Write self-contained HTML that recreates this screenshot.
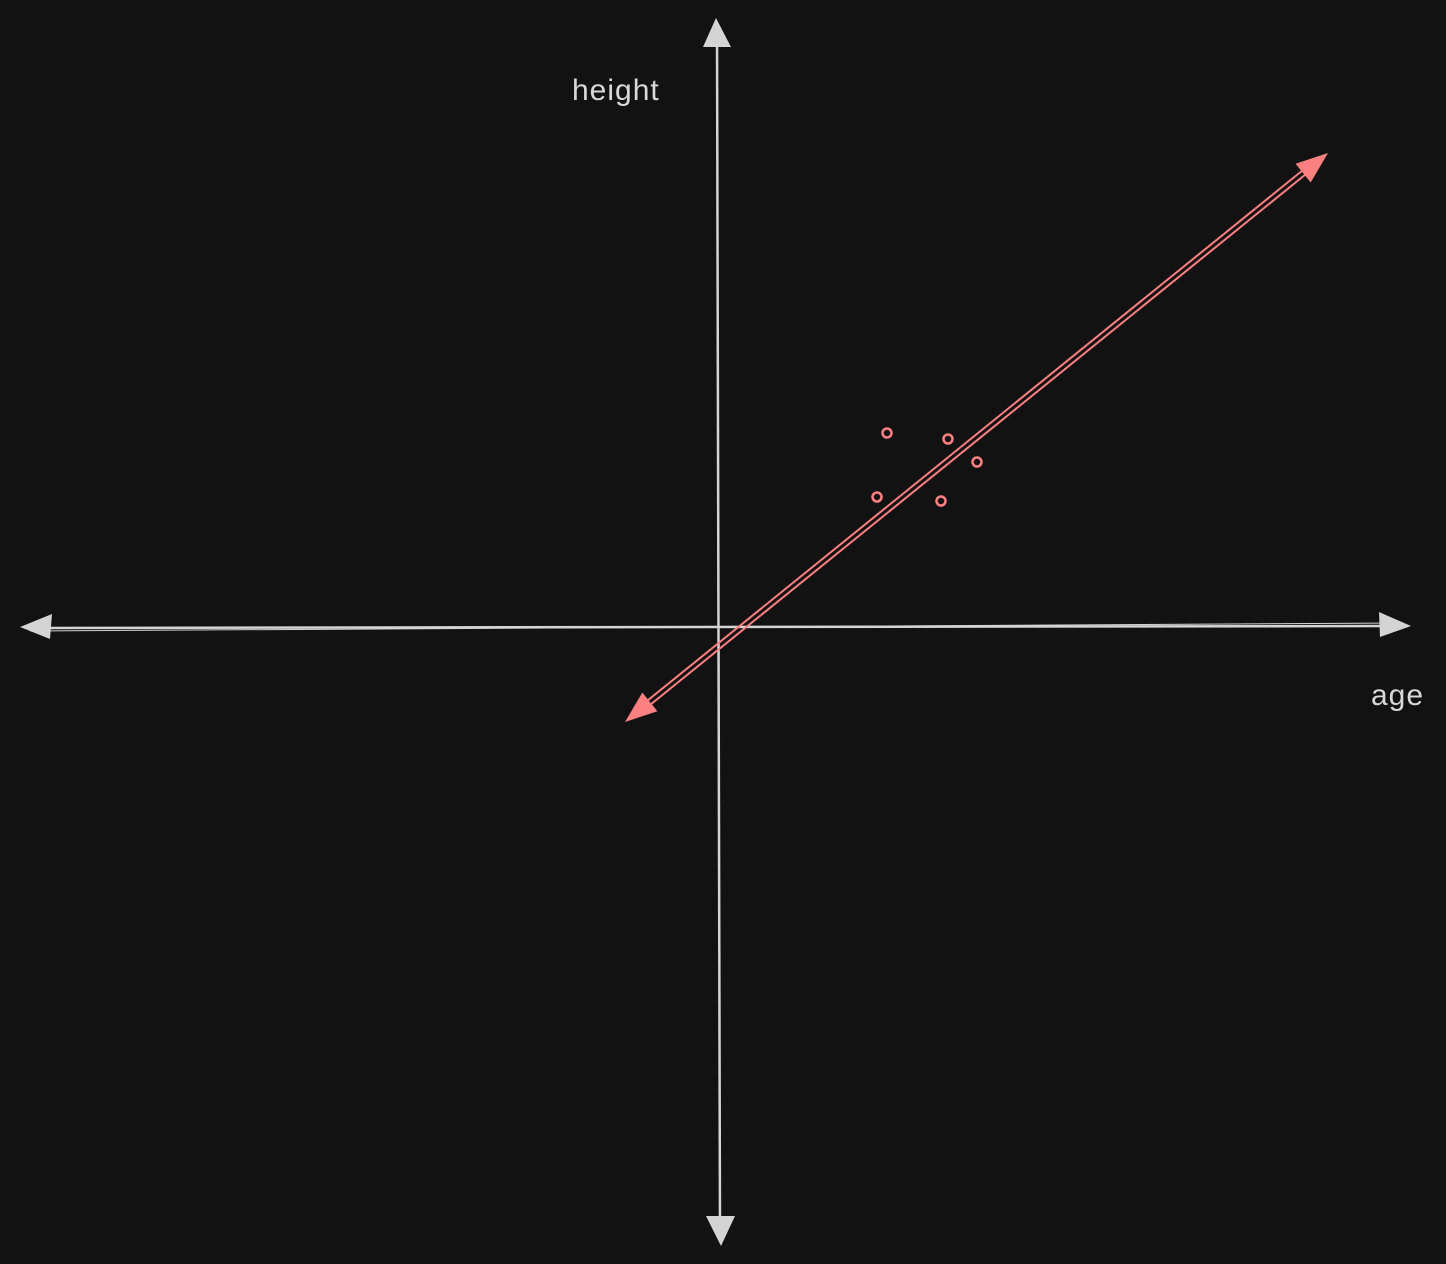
<!DOCTYPE html>
<html><head><meta charset="utf-8"><style>
html,body{margin:0;padding:0;background:#121212;}
svg{display:block;}
text{font-family:"Liberation Sans",sans-serif;font-size:30px;fill:#d8d8d8;letter-spacing:1px;}
</style></head><body>
<svg id="chart" width="1446" height="1264" viewBox="0 0 1446 1264">
<rect width="1446" height="1264" fill="#121212"/>
<g>
<line x1="30" y1="628" x2="1400" y2="626" stroke="#d4d4d4" stroke-width="2.5"/>
<line x1="30" y1="631" x2="1400" y2="623" stroke="#d4d4d4" stroke-width="1"/>
<polygon points="20,627 52,614 50,639" fill="#d4d4d4"/>
<polygon points="1411,626 1379,612 1380,637" fill="#d4d4d4"/>
</g>
<g>
<line x1="717" y1="30" x2="720" y2="1235" stroke="#d4d4d4" stroke-width="2.5"/>
<polygon points="716,18 703,47 731,47" fill="#d4d4d4"/>
<polygon points="721,1246 706,1216 735,1216" fill="#d4d4d4"/>
</g>
<text x="572" y="100">height</text>
<text x="1371" y="705">age</text>
<g id="marks"></g>
</svg>
<script>
const pointX = [169, 230, 259, 159, 223];
const pointY = [194, 188, 165, 130, 126];
const trendX = [-93, 610];
const trendY = [-95, 474];
function xs(v){return 718+v;}
function ys(v){return 627-v;}
const NS="http://www.w3.org/2000/svg";
const g=document.getElementById('marks');
const x1=xs(trendX[0]),y1=ys(trendY[0]),x2=xs(trendX[1]),y2=ys(trendY[1]);
const dx=x2-x1,dy=y2-y1,L=Math.hypot(dx,dy),ux=dx/L,uy=dy/L,nx=-uy,ny=ux;
for(const off of [-2.5,2.5]){
  const l=document.createElementNS(NS,'line');
  
  
  l.setAttribute('x1',x1+ux*15+nx*off);l.setAttribute('y1',y1+uy*15+ny*off);
  l.setAttribute('x2',x2-ux*15+nx*off);l.setAttribute('y2',y2-uy*15+ny*off);
  l.setAttribute('stroke','#ff8080');l.setAttribute('stroke-width','2');
  g.appendChild(l);
}
function head(px,py,dirx,diry,name){
  const p=document.createElementNS(NS,'polygon');
  
  
  const bx=px-dirx*32,by=py-diry*32;
  p.setAttribute('points',`${px},${py} ${bx+nx*12},${by+ny*12} ${bx-nx*12},${by-ny*12}`);
  p.setAttribute('fill','#ff8080');
  g.appendChild(p);
}
head(x2,y2,ux,uy,'trend-arrow-end');
head(x1,y1,-ux,-uy,'trend-arrow-start');
for(let i=0;i<pointX.length;i++){
  const c=document.createElementNS(NS,'circle');
  
  
  c.setAttribute('cx',xs(pointX[i]));c.setAttribute('cy',ys(pointY[i]));
  c.setAttribute('r','4.5');c.setAttribute('fill','none');
  c.setAttribute('stroke','#ff8080');c.setAttribute('stroke-width','2.5');
  g.appendChild(c);
}
</script>
</body></html>
